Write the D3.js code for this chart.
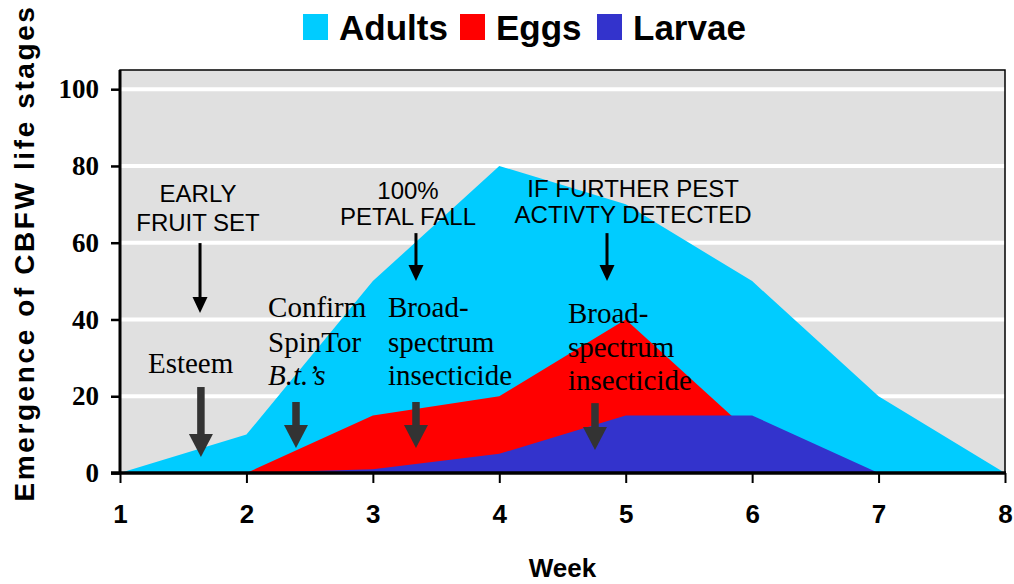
<!DOCTYPE html>
<html>
<head>
<meta charset="utf-8">
<script src="https://cdn.jsdelivr.net/npm/d3@7"></script>
<style>
  body { margin: 0; background: #ffffff; }
  svg { display: block; }
</style>
</head>
<body>
<div id="main"></div>
<script>
// ---- data ----
const weeks = [1, 2, 3, 4, 5, 6, 7, 8];
const adults = [0, 10, 50, 80, 70, 50, 20, 0];
const eggs = [0, 0, 15, 20, 40, 10, 0, 0];
const larvae = [0, 0, 1, 5, 15, 15, 0, 0];
const seriesNames = ["Adults", "Eggs", "Larvae"];
const seriesColors = ["#00ccff", "#ff0000", "#3333cc"];
const yTicks = [0, 20, 40, 60, 80, 100];

// annotations in (week, value) units
const notes = [
    {lines: ["EARLY", "FRUIT SET"], x: 1.617, y: [70.6, 63.0]},
    {lines: ["100%", "PETAL FALL"], x: 3.278, y: [71.4, 64.6]},
    {lines: ["IF FURTHER PEST", "ACTIVTY DETECTED"], x: 5.058, y: [71.9, 65.1]}
];
const treatments = [
    {lines: ["Esteem"], x: 1.221, y: [26.1]},
    {lines: ["Confirm", "SpinTor", "B.t.’s"], x: 2.171, y: [40.6, 31.5, 22.9]},
    {lines: ["Broad-", "spectrum", "insecticide"], x: 3.120, y: [40.6, 31.5, 22.9]},
    {lines: ["Broad-", "spectrum", "insecticide"], x: 4.543, y: [39.1, 30.2, 21.6]}
];
const thinArrows = [
    {x: 1.633, y0: 59.9, y1: 41.7},
    {x: 3.341, y0: 62.5, y1: 50.0},
    {x: 4.852, y0: 62.5, y1: 50.0}
];
const thickArrows = [
    {x: 1.64, y0: 22.4, y1: 4.2},
    {x: 2.392, y0: 18.5, y1: 6.5},
    {x: 3.341, y0: 18.5, y1: 6.5},
    {x: 4.757, y0: 18.2, y1: 6.0}
];

const ctx = {
    width: 1014,
    height: 584,
    left: 120,
    right: 1005,
    top: 70,
    bottom: 473,
    plotGrey: "#e0e0e0",
    arrowGrey: "#333333"
};

function createViz(){
    let svg = d3.select("#main").append("svg")
        .attr("width", ctx.width)
        .attr("height", ctx.height);

    let x = d3.scaleLinear().domain([1, 8]).range([ctx.left, ctx.right]);
    let y = d3.scaleLinear().domain([0, 105]).range([ctx.bottom, ctx.top]);

    // plot background
    svg.append("rect")
        .attr("x", ctx.left)
        .attr("y", ctx.top)
        .attr("width", ctx.right - ctx.left)
        .attr("height", ctx.bottom - ctx.top)
        .attr("fill", ctx.plotGrey);

    // white gridlines
    svg.append("g").selectAll("line")
        .data(yTicks.filter(d => d > 0))
        .enter()
        .append("line")
        .attr("x1", ctx.left)
        .attr("x2", ctx.right)
        .attr("y1", d => y(d))
        .attr("y2", d => y(d))
        .attr("stroke", "white")
        .attr("stroke-width", 4);

    // areas, drawn on top of each other (not stacked)
    let allSeries = [adults, eggs, larvae];
    let area = d3.area()
        .x((d, i) => x(weeks[i]))
        .y0(y(0))
        .y1(d => y(d));
    svg.append("g").selectAll("path")
        .data(allSeries)
        .enter()
        .append("path")
        .attr("d", d => area(d))
        .attr("fill", (d, i) => seriesColors[i]);

    // frame
    svg.append("rect")
        .attr("x", ctx.left)
        .attr("y", ctx.top)
        .attr("width", ctx.right - ctx.left)
        .attr("height", ctx.bottom - ctx.top)
        .attr("fill", "none")
        .attr("stroke", "black")
        .attr("stroke-width", 1.5);

    // y axis
    let yAxis = svg.append("g")
        .attr("transform", "translate(" + ctx.left + ",0)")
        .call(d3.axisLeft(y).tickValues(yTicks).tickSize(9).tickPadding(12));
    yAxis.select(".domain").remove();
    yAxis.selectAll(".tick line").attr("stroke", "black").attr("stroke-width", 2.5);
    yAxis.selectAll(".tick text")
        .attr("font-family", "'Liberation Serif', 'Times New Roman', serif")
        .attr("font-weight", "bold")
        .attr("font-size", "27px")
        .attr("fill", "black");
    svg.append("line")
        .attr("x1", ctx.left).attr("x2", ctx.left)
        .attr("y1", ctx.top).attr("y2", ctx.bottom + 1)
        .attr("stroke", "black").attr("stroke-width", 3);

    // x axis
    let xAxis = svg.append("g")
        .attr("transform", "translate(0," + ctx.bottom + ")")
        .call(d3.axisBottom(x).tickValues(weeks).tickFormat(d3.format("d")).tickSize(10).tickPadding(22));
    xAxis.select(".domain").remove();
    xAxis.selectAll(".tick line").attr("stroke", "black").attr("stroke-width", 2);
    xAxis.selectAll(".tick text")
        .attr("font-family", "'Liberation Sans Narrow', 'Arial Narrow', Arial, sans-serif")
        .attr("font-weight", "bold")
        .attr("font-size", "26px")
        .attr("fill", "black");
    svg.append("line")
        .attr("x1", ctx.left - 9).attr("x2", ctx.right + 1)
        .attr("y1", ctx.bottom).attr("y2", ctx.bottom)
        .attr("stroke", "black").attr("stroke-width", 3.5);

    // axis titles
    svg.append("text")
        .attr("x", (ctx.left + ctx.right) / 2)
        .attr("y", 577)
        .attr("text-anchor", "middle")
        .attr("font-family", "'Liberation Sans Narrow', 'Arial Narrow', Arial, sans-serif")
        .attr("font-weight", "bold")
        .attr("font-size", "26px")
        .text("Week");
    svg.append("text")
        .attr("transform", "translate(34,253) rotate(-90)")
        .attr("text-anchor", "middle")
        .attr("font-family", "'Liberation Sans', Arial, sans-serif")
        .attr("font-weight", "bold")
        .attr("font-size", "28px")
        .attr("letter-spacing", "2.6px")
        .text("Emergence of CBFW life stages");

    // legend
    let legend = svg.append("g");
    let legendX = [303, 460, 597];
    seriesNames.forEach((name, i) => {
        legend.append("rect")
            .attr("x", legendX[i])
            .attr("y", 14)
            .attr("width", 25)
            .attr("height", 26)
            .attr("fill", seriesColors[i]);
        legend.append("text")
            .attr("x", legendX[i] + 36)
            .attr("y", 40)
            .attr("font-family", "'Liberation Sans', Arial, sans-serif")
            .attr("font-weight", "bold")
            .attr("font-size", "35px")
            .text(name);
    });

    // stage notes (sans)
    let noteG = svg.append("g");
    notes.forEach(n => {
        n.lines.forEach((line, j) => {
            noteG.append("text")
                .attr("x", x(n.x))
                .attr("y", y(n.y[j]))
                .attr("text-anchor", "middle")
                .attr("font-family", "'Liberation Sans', Arial, sans-serif")
                .attr("font-size", "24px")
                .text(line);
        });
    });

    // treatment notes (serif)
    treatments.forEach(n => {
        n.lines.forEach((line, j) => {
            let t = noteG.append("text")
                .attr("x", x(n.x))
                .attr("y", y(n.y[j]))
                .attr("font-family", "'Liberation Serif', 'Times New Roman', serif")
                .attr("font-size", "29px")
                .text(line);
            if (line.startsWith("B.t.")) t.attr("font-style", "italic");
        });
    });

    // thin black arrows
    thinArrows.forEach(a => {
        let cx = x(a.x), top = y(a.y0), tip = y(a.y1);
        noteG.append("line")
            .attr("x1", cx).attr("x2", cx)
            .attr("y1", top).attr("y2", tip - 14)
            .attr("stroke", "black").attr("stroke-width", 3);
        noteG.append("path")
            .attr("d", "M" + (cx - 7.5) + "," + (tip - 16) + "L" + (cx + 7.5) + "," + (tip - 16) + "L" + cx + "," + tip + "Z")
            .attr("fill", "black");
    });

    // thick grey arrows
    thickArrows.forEach(a => {
        let cx = x(a.x), top = y(a.y0), tip = y(a.y1);
        noteG.append("rect")
            .attr("x", cx - 3.75).attr("y", top)
            .attr("width", 7.5).attr("height", tip - top - 20)
            .attr("fill", ctx.arrowGrey);
        noteG.append("path")
            .attr("d", "M" + (cx - 12) + "," + (tip - 23) + "L" + (cx + 12) + "," + (tip - 23) + "L" + cx + "," + tip + "Z")
            .attr("fill", ctx.arrowGrey);
    });
}

createViz();
</script>
</body>
</html>
